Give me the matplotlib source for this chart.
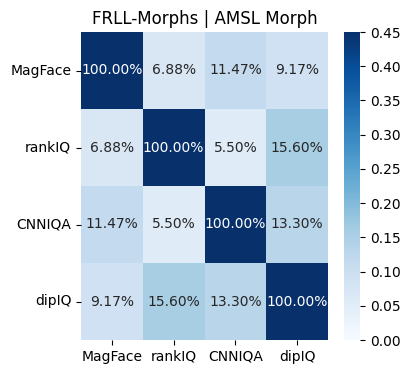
import matplotlib
matplotlib.use("Agg")
import matplotlib.pyplot as plt
import seaborn as sns
import numpy as np

labels = ["MagFace", "rankIQ", "CNNIQA", "dipIQ"]
row_magface = [1.0, 0.0688, 0.1147, 0.0917]
row_rankiq = [0.0688, 1.0, 0.0550, 0.1560]
row_cnniqa = [0.1147, 0.0550, 1.0, 0.1330]
row_dipiq = [0.0917, 0.1560, 0.1330, 1.0]

data = np.array([row_magface, row_rankiq, row_cnniqa, row_dipiq])

fig = plt.figure(figsize=(4.1, 3.74), dpi=100)
ax = fig.add_axes([81/410, 34/374, 247/410, 308/374])
cax = fig.add_axes([344/410, 34/374, 16/410, 308/374])
sns.heatmap(data, ax=ax, cbar_ax=cax, cmap="Blues", vmin=0, vmax=0.45,
            annot=True, fmt=".2%", xticklabels=labels, yticklabels=labels)
ax.set_title("FRLL-Morphs | AMSL Morph", fontsize=12)
ax.tick_params(axis="y", rotation=0)
fig.savefig("out.png", dpi=100)
